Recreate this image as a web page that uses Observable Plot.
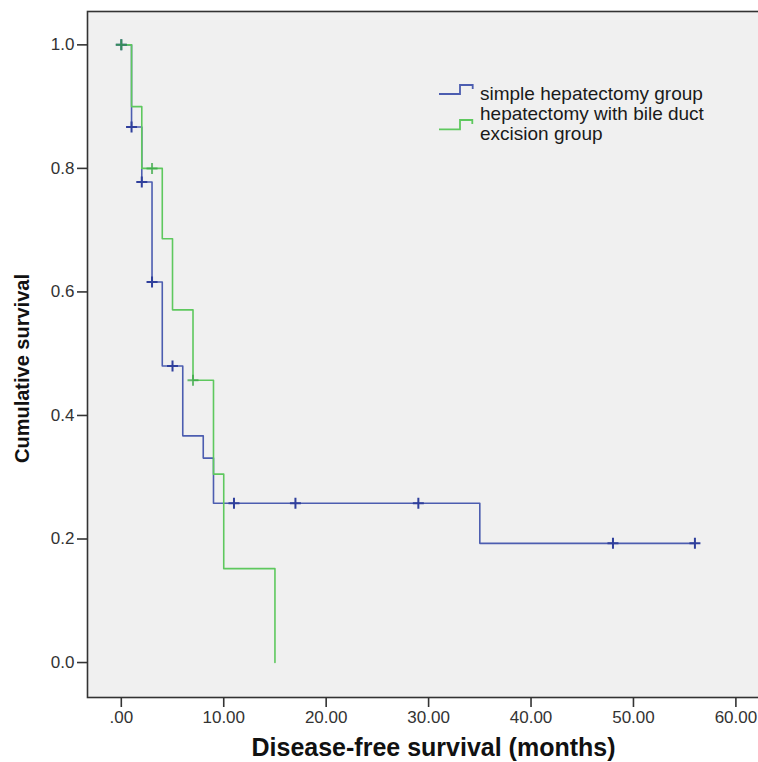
<!DOCTYPE html>
<html><head><meta charset="utf-8">
<script src="https://cdn.jsdelivr.net/npm/d3@7"></script>
<script src="https://cdn.jsdelivr.net/npm/@observablehq/plot@0.6"></script>
<style>
body{margin:0;background:#fff;font-family:Arial,"Liberation Sans",sans-serif;}
#wrap{position:relative;width:758px;height:762px;overflow:hidden;}
#legend{position:absolute;left:0;top:0;pointer-events:none;}
</style></head><body><div id="wrap"></div>
<script>
// Kaplan–Meier step data
const groups = ["simple hepatectomy group", "hepatectomy with bile duct", "excision group"];
const simpleTime = [0, 1, 2, 3, 4, 6, 8, 9, 35, 56];
const simpleSurv = [1, 0.867, 0.778, 0.616, 0.48, 0.367, 0.331, 0.258, 0.193, 0.193];
const simpleCensorTime = [0, 1, 2, 3, 5, 11, 17, 29, 48, 56];
const simpleCensorSurv = [1, 0.867, 0.778, 0.616, 0.48, 0.258, 0.258, 0.258, 0.193, 0.193];
const bileTime = [0, 1, 2, 4, 5, 7, 9, 10, 15];
const bileSurv = [1, 0.9, 0.8, 0.686, 0.571, 0.457, 0.305, 0.152, 0];
const bileCensorTime = [0, 3, 7];
const bileCensorSurv = [1, 0.8, 0.457];
const xTicks = [0, 10, 20, 30, 40, 50, 60];
const yTicks = [0, 0.2, 0.4, 0.6, 0.8, 1.0];
const xTitle = "Disease-free survival (months)";
const yTitle = "Cumulative survival";

const BLUE = "#4c5db0", BLUE_DARK = "#2f3f9c";
const GREEN = "#5ec85e", GREEN_DARK = "#3aa845";

const simple = simpleTime.map((t, i) => ({t, s: simpleSurv[i]}));
const bile = bileTime.map((t, i) => ({t, s: bileSurv[i]}));
const simpleC = simpleCensorTime.map((t, i) => ({t, s: simpleCensorSurv[i]}));
const bileC = bileCensorTime.map((t, i) => ({t, s: bileCensorSurv[i]}));

const plusSym = {draw(ctx, size) {
  const r = Math.sqrt(size / Math.PI);
  ctx.moveTo(-r, 0); ctx.lineTo(r, 0);
  ctx.moveTo(0, -r); ctx.lineTo(0, r);
}};

const chart = Plot.plot({
  width: 758, height: 762,
  marginLeft: 87, marginRight: -3, marginTop: 11, marginBottom: 65,
  style: {fontFamily: "Arial, 'Liberation Sans', sans-serif", fontSize: "17px", background: "#fff", color: "#333"},
  x: {domain: [-3.3, 62.5]},
  y: {domain: [-0.0566, 1.054]},
  marks: [
    Plot.frame({fill: "#f0f0f0", stroke: "#333", strokeWidth: 1.6}),
    Plot.axisX({ticks: xTicks, tickFormat: d => d === 0 ? ".00" : d.toFixed(2), tickSize: 10, tickPadding: 3, fontSize: 17, label: null, strokeWidth: 1.6}),
    Plot.axisY({ticks: yTicks, tickFormat: d => d.toFixed(1), tickSize: 10, tickPadding: 3, fontSize: 17, label: null, strokeWidth: 1.6}),
    Plot.line(simple, {x: "t", y: "s", curve: "step-after", stroke: BLUE, strokeWidth: 1.6}),
    Plot.line(bile, {x: "t", y: "s", curve: "step-after", stroke: GREEN, strokeWidth: 1.6}),
    Plot.dot(simpleC, {x: "t", y: "s", symbol: plusSym, r: 5.5, stroke: BLUE_DARK, strokeWidth: 2, fill: "none"}),
    Plot.dot(bileC, {x: "t", y: "s", symbol: plusSym, r: 5.5, stroke: GREEN_DARK, strokeWidth: 2, fill: "none", strokeOpacity: 0.75}),
    Plot.text([xTitle], {text: d => d, frameAnchor: "bottom", textAnchor: "middle", dx: 9, dy: 58, lineAnchor: "bottom", fontSize: 25, fontWeight: "bold", fill: "#111"}),
    Plot.text([yTitle], {text: d => d, frameAnchor: "left", textAnchor: "middle", rotate: -90, dx: -65, dy: 14, fontSize: 20, fontWeight: "bold", fill: "#111"})
  ]
});
document.getElementById("wrap").appendChild(chart);

// legend overlay
const ns = "http://www.w3.org/2000/svg";
const lg = document.createElementNS(ns, "svg");
lg.setAttribute("id", "legend");
lg.setAttribute("width", 758); lg.setAttribute("height", 762);
lg.innerHTML = `
<path d="M439,94H460V85H472.7V89" fill="none" stroke="${BLUE}" stroke-width="1.8"/>
<path d="M439,129.3H460V120H472.3V124" fill="none" stroke="${GREEN}" stroke-width="1.8"/>
<g font-family="Arial, 'Liberation Sans', sans-serif" font-size="19" fill="#1a1a1a">
<text x="480" y="99.5">${groups[0]}</text>
<text x="480" y="120">${groups[1]}</text>
<text x="480" y="140">${groups[2]}</text>
</g>`;
document.getElementById("wrap").appendChild(lg);
</script>
</body></html>
